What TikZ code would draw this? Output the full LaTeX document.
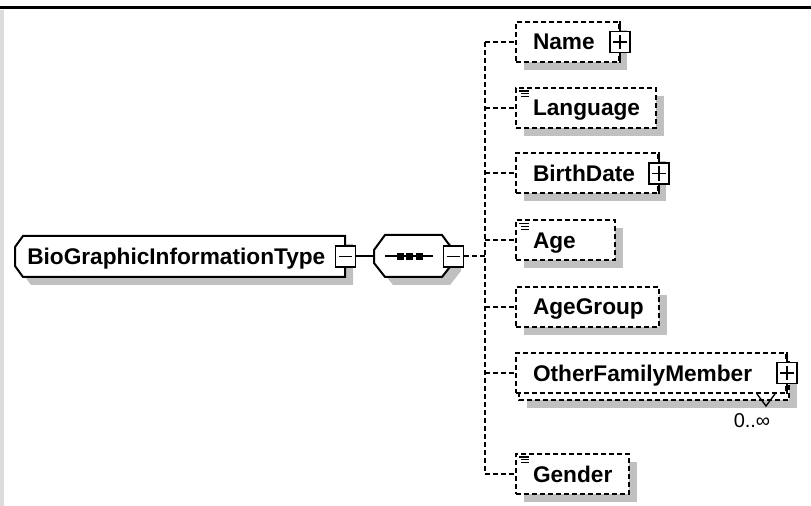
\documentclass[tikz,border=0pt]{standalone}
\usepackage{fontspec}
\setmainfont{Liberation Sans}
\usetikzlibrary{shadows,calc}

\definecolor{shadowgray}{RGB}{192,192,192}
\definecolor{bargray}{RGB}{220,220,220}

\tikzstyle{shadowed} = [drop shadow={shadow xshift=6pt, shadow yshift=-6pt, fill=shadowgray, opacity=1}]
\tikzstyle{outline} = [draw=black, line width=1.5pt, fill=white, shadowed]
\tikzstyle{backframe} = [draw=black, line width=1.5pt, dash pattern=on 3.75pt off 2.25pt, fill=white, shadowed]
\tikzstyle{typetext} = [rectangle, anchor=west, minimum height=30.75pt, inner xsep=9pt, text height=12pt, text depth=0pt, align=left, font=\fontsize{17}{19}\selectfont\bfseries]
\tikzstyle{elembase} = [rectangle, anchor=west, draw=black, line width=1.5pt, dash pattern=on 3.75pt off 2.25pt, fill=white, minimum height=30pt, inner xsep=12.75pt, text height=12pt, text depth=0pt, align=left, font=\fontsize{17}{19}\selectfont\bfseries]
\tikzstyle{element} = [elembase, shadowed]
\tikzstyle{simple} = [path picture={
  \draw[solid, line width=0.9pt] ([shift={(2.5pt,-2.2pt)}]path picture bounding box.north west) -- ++(7.5pt,0pt);
  \draw[solid, line width=0.9pt] ([shift={(4pt,-4.4pt)}]path picture bounding box.north west) -- ++(6pt,0pt);
  \draw[solid, line width=0.9pt] ([shift={(4pt,-6.6pt)}]path picture bounding box.north west) -- ++(6pt,0pt);}]
\tikzstyle{expander} = [rectangle, draw=black, solid, line width=1.1pt, fill=white, minimum width=15pt, minimum height=15.75pt, inner sep=0pt]
\tikzstyle{minusbox} = [expander, path picture={
  \draw[solid, line width=1.1pt] ([xshift=2.5pt]path picture bounding box.west) -- ([xshift=-2.5pt]path picture bounding box.east);}]
\tikzstyle{plusbox} = [expander, path picture={
  \draw[solid, line width=1.1pt] ([xshift=2.5pt]path picture bounding box.west) -- ([xshift=-2.5pt]path picture bounding box.east);
  \draw[solid, line width=1.1pt] ([yshift=-2.5pt]path picture bounding box.north) -- ([yshift=2.5pt]path picture bounding box.south);}]
\tikzstyle{branch} = [line width=1.5pt, dash pattern=on 3.75pt off 2.25pt]
\tikzstyle{wire} = [line width=1.5pt]
\tikzstyle{multtext} = [inner sep=0pt, font=\fontsize{15}{17}\selectfont]

\begin{document}
\begin{tikzpicture}[x=0.75pt, y=-0.75pt]
\useasboundingbox (0,0) rectangle (811,506);
\fill[bargray] (0,10) rectangle (4,506);
\draw[line width=2.25pt] (0,8) -- (811,8);

% complex type
\draw[outline] (23,236) -- (345,236) -- (345,277) -- (23,277) -- (15,266) -- (15,247) -- cycle;
\node[typetext, text width=229.5pt] (bio) at (15,256.5) {BioGraphicInformationType};
\node[minusbox] (biominus) at (bio.east) {};

% sequence
\draw[outline] (385,235) -- (442,235) -- (453,250) -- (453,263) -- (442,277) -- (385,277) -- (374,263) -- (374,250) -- cycle;
\node[minimum width=59.25pt, minimum height=31.5pt, inner sep=0pt] (seq) at (413.5,256.5) {};
\draw[wire] ($(seq.center)+(-28.5,0)$) -- ($(seq.center)+(19.5,0)$);
\foreach \dx in {-13.5,-4.5,5.5}
  \fill ($(seq.center)+(\dx-3.5,-3.5)$) rectangle ++(7,7);
\node[minusbox] (seqminus) at (seq.east) {};
\draw[wire] (biominus) -- (seq);

% child elements
\node[element, text width=51.75pt] (name) at (515,42) {Name};
\node[element, simple, text width=79.5pt] (language) at (515,108) {Language};
\node[element, text width=81pt] (birthdate) at (515,173.5) {BirthDate};
\node[element, simple, text width=48.75pt] (age) at (515,240.5) {Age};
\node[element, text width=81.75pt] (agegroup) at (515,307) {AgeGroup};
\draw[backframe] (519,360) rectangle (789,400);
\node[elembase, text width=177pt] (other) at (515,373) {OtherFamilyMember};
\node[element, simple, text width=59.25pt] (gender) at (515,474) {Gender};

\foreach \el in {name,birthdate,other} {
  \node[plusbox] (\el-plus) at (\el.east) {};
  \draw[line width=1.1pt] (\el.north east) -- (\el-plus.north);
  \draw[line width=1.1pt] (\el-plus.south) -- (\el.south east);
}

\node[multtext] (othermult) at (752,421) {0..∞};
\draw[line width=1pt] ($(other.south east)+(-30,0)$) -- ++(9,12) -- ++(9,-12);

% branches
\coordinate (fork) at (485,256.5);
\draw[branch] (seqminus) -- (fork);
\draw[branch] (fork |- name.west) -- (fork |- gender.west);
\foreach \el in {name,language,birthdate,age,agegroup,other,gender}
  \draw[branch] (fork |- \el.west) -- (\el.west);

\end{tikzpicture}
\end{document}
